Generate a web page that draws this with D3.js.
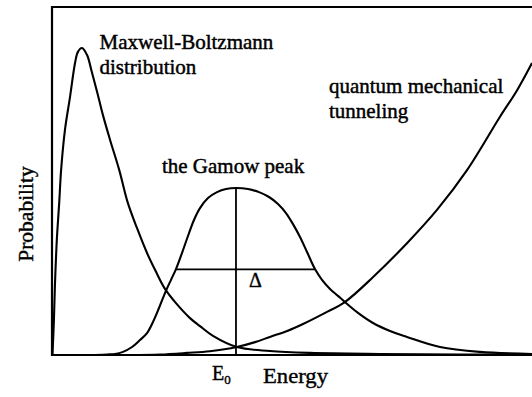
<!DOCTYPE html>
<html>
<head>
<meta charset="utf-8">
<script src="https://cdn.jsdelivr.net/npm/d3@7/dist/d3.min.js"></script>
<style>
  html, body { margin: 0; padding: 0; background: #fff; }
  svg { display: block; }
  text { font-family: "Liberation Serif", "Times New Roman", serif; fill: #000; }
</style>
</head>
<body>
<svg id="chart" width="532" height="397"></svg>
<script>
// Energy (arbitrary units) and probability readings for each curve
const mbEnergy = [0.01, 0.04, 0.06, 0.10, 0.15, 0.19, 0.27, 0.375, 0.48, 0.54, 0.625, 0.73, 0.83, 0.94, 1.06, 1.21, 1.40, 1.58, 1.77, 1.98, 2.167, 2.354, 2.583, 2.875, 3.083, 3.354, 3.85, 4.54, 5.375, 6.83, 8.5, 10.0];
const mbProb   = [0.000, 0.101, 0.195, 0.330, 0.437, 0.532, 0.647, 0.741, 0.839, 0.871, 0.882, 0.862, 0.813, 0.756, 0.690, 0.618, 0.532, 0.437, 0.365, 0.293, 0.239, 0.190, 0.149, 0.106, 0.083, 0.055, 0.023, 0.0115, 0.006, 0.003, 0.0015, 0.001];

const gamowEnergy = [0.896, 1.146, 1.313, 1.479, 1.667, 1.833, 1.979, 2.104, 2.229, 2.354, 2.479, 2.583, 2.708, 2.833, 2.958, 3.083, 3.25, 3.438, 3.625, 3.833, 4.083, 4.313, 4.521, 4.708, 4.875, 5.021, 5.167, 5.313, 5.479, 5.625, 5.792, 5.958, 6.104, 6.375, 6.688, 7.042, 7.396, 8.083, 8.917, 10.0];
const gamowProb   = [0.000, 0.0014, 0.003, 0.009, 0.023, 0.043, 0.063, 0.095, 0.135, 0.178, 0.216, 0.247, 0.293, 0.342, 0.388, 0.422, 0.451, 0.468, 0.477, 0.480, 0.477, 0.468, 0.454, 0.434, 0.408, 0.376, 0.339, 0.296, 0.247, 0.216, 0.190, 0.170, 0.152, 0.121, 0.092, 0.069, 0.052, 0.023, 0.009, 0.003];

const tunnelEnergy = [1.625, 2.25, 2.81, 3.29, 3.85, 4.23, 4.54, 4.90, 5.23, 5.69, 6.10, 6.69, 7.40, 8.02, 8.65, 9.33, 9.69, 10.0];
const tunnelProb   = [0.000, 0.0014, 0.006, 0.011, 0.023, 0.037, 0.052, 0.069, 0.089, 0.121, 0.152, 0.224, 0.322, 0.417, 0.532, 0.684, 0.761, 0.839];

// Gamow peak position and its width at half height
const peakEnergy = 3.833;
const peakProb = 0.480;
const widthLo = 2.583;
const widthHi = 5.479;
const widthProb = 0.246;

const curveLabels = [
  { lines: ["Maxwell-Boltzmann", "distribution"], e: 0.99, p: 0.879 },
  { lines: ["quantum mechanical", "tunneling"], e: 5.77, p: 0.754 },
  { lines: ["the Gamow peak"], e: 2.29, p: 0.523 }
];

const svg = d3.select("#chart");
const m = { left: 52, right: 532, top: 7, bottom: 355 };

const x = d3.scaleLinear().domain([0, 10]).range([m.left, m.right]);
const y = d3.scaleLinear().domain([0, 1]).range([m.bottom, m.top]);

svg.append("defs").append("clipPath").attr("id", "plot")
  .append("rect").attr("x", m.left).attr("y", m.top)
  .attr("width", m.right - m.left).attr("height", m.bottom - m.top);

const line = d3.line().x(d => x(d[0])).y(d => y(d[1])).curve(d3.curveCatmullRom.alpha(0.5));
const plot = svg.append("g").attr("clip-path", "url(#plot)");

const series = [
  d3.zip(mbEnergy, mbProb),
  d3.zip(gamowEnergy, gamowProb),
  d3.zip(tunnelEnergy, tunnelProb)
];
plot.selectAll("path.curve").data(series).join("path")
  .attr("class", "curve")
  .attr("d", line)
  .attr("fill", "none")
  .attr("stroke", "#000")
  .attr("stroke-width", 2.1)
  .attr("stroke-linejoin", "round");

// E0 marker and the width bar
plot.append("line")
  .attr("x1", x(peakEnergy)).attr("x2", x(peakEnergy))
  .attr("y1", y(0)).attr("y2", y(peakProb))
  .attr("stroke", "#000").attr("stroke-width", 1.8);
plot.append("line")
  .attr("x1", x(widthLo)).attr("x2", x(widthHi))
  .attr("y1", y(widthProb)).attr("y2", y(widthProb))
  .attr("stroke", "#000").attr("stroke-width", 1.8);

// Frame: left, top and bottom edges
const frame = d3.path();
frame.moveTo(m.right, m.top);
frame.lineTo(m.left, m.top);
frame.lineTo(m.left, m.bottom);
frame.lineTo(m.right, m.bottom);
svg.append("path").attr("d", frame.toString())
  .attr("fill", "none").attr("stroke", "#000").attr("stroke-width", 2.2);

// Curve labels
curveLabels.forEach(l => {
  const t = svg.append("text")
    .attr("x", x(l.e)).attr("y", y(l.p))
    .attr("font-size", 21)
    .attr("stroke", "#000").attr("stroke-width", 0.45);
  l.lines.forEach((s, i) => {
    t.append("tspan").attr("x", x(l.e)).attr("dy", i === 0 ? 0 : 25).text(s);
  });
});

svg.append("text")
  .attr("x", x(peakEnergy) + 13).attr("y", y(widthProb) + 18)
  .attr("font-size", 20)
  .attr("stroke", "#000").attr("stroke-width", 0.4)
  .text("Δ");

// Axis titles
const e0 = svg.append("text")
  .attr("x", x(peakEnergy) - 24).attr("y", 380)
  .attr("font-size", 20)
  .attr("stroke", "#000").attr("stroke-width", 0.4);
e0.append("tspan").text("E");
e0.append("tspan").attr("font-size", 13).attr("dy", 4).text("0");

svg.append("text")
  .attr("x", 263).attr("y", 383)
  .attr("font-size", 22)
  .attr("textLength", 65).attr("lengthAdjust", "spacingAndGlyphs")
  .attr("stroke", "#000").attr("stroke-width", 0.4)
  .text("Energy");

svg.append("text")
  .attr("transform", "translate(33,214) rotate(-90)")
  .attr("text-anchor", "middle")
  .attr("font-size", 21.5)
  .attr("stroke", "#000").attr("stroke-width", 0.4)
  .text("Probability");
</script>
</body>
</html>
